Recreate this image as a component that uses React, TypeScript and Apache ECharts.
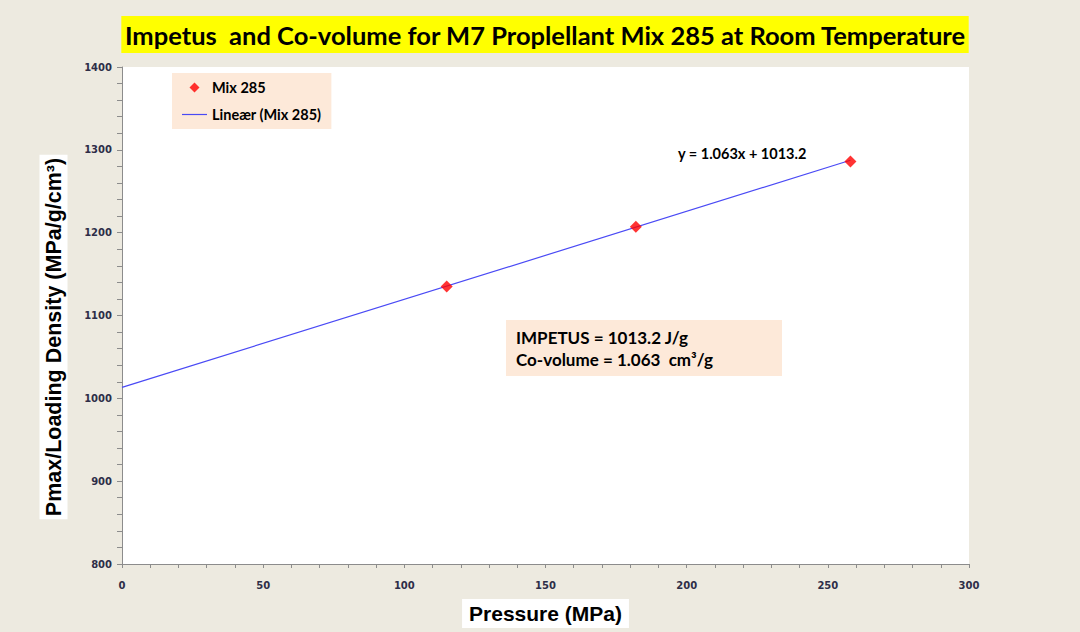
import React, { useEffect, useRef } from "react";
import * as echarts from "echarts";

const pressure = [115, 182, 258];
const pmaxDensity = [1135, 1207, 1286];
const trendX = [0, 258];
const trendY = [1013.2, 1287.4];
const xTicks = { min: 0, max: 300, interval: 50 };
const yTicks = { min: 800, max: 1400, interval: 100 };
const titleText = "Impetus  and Co-volume for M7 Proplellant Mix 285 at Room Temperature";
const equationText = "y = 1.063x + 1013.2";
const impetusLines = ["IMPETUS = 1013.2 J/g", "Co-volume = 1.063  cm³/g"];

export default function App() {
  const ref = useRef<HTMLDivElement>(null);
  useEffect(() => {
    if (!ref.current) return;
    const chart = echarts.init(ref.current, null, { renderer: "svg" });
    const tickFont = { fontFamily: "DejaVu Sans", fontWeight: "bold" as const, fontSize: 10, color: "#2E2E48" };
    chart.setOption({
      animation: false,
      backgroundColor: "#EDEAE0",
      title: {
        text: titleText,
        left: 542,
        top: 16,
        textAlign: "center",
        padding: [6, 3, 5, 3],
        backgroundColor: "#FFFF00",
        textStyle: { fontFamily: "Lato", fontWeight: "bold", fontSize: 25.5, color: "#000", lineHeight: 26 },
      },
      legend: {
        data: [
          { name: "Mix 285", icon: "path://M5,0L10,5L5,10L0,5Z" },
          { name: "Lineær (Mix 285)", icon: "path://M0,0h25v1.2h-25z" },
        ],
        orient: "vertical",
        left: 172,
        top: 73,
        padding: [7, 10, 7, 10],
        itemGap: 12,
        itemWidth: 25,
        itemHeight: 10,
        symbolKeepAspect: true,
        backgroundColor: "#FDE9D9",
        selectedMode: false,
        textStyle: { fontFamily: "Lato", fontWeight: "bold", fontSize: 14.5, color: "#000" },
      },
      grid: {
        left: 122,
        right: 111,
        top: 67,
        bottom: 68,
        show: true,
        backgroundColor: "#FFFFFF",
        borderWidth: 0,
        containLabel: false,
        outerBoundsMode: "none",
      },
      xAxis: {
        type: "value",
        ...xTicks,
        name: "Pressure (MPa)",
        nameLocation: "middle",
        nameGap: 35,
        nameMoveOverlap: false,
        nameTextStyle: {
          fontFamily: "Liberation Sans",
          fontWeight: "bold",
          fontSize: 21,
          color: "#000",
          backgroundColor: "#FFFFFF",
          padding: [4, 7, 4, 7],
        },
        axisLine: { show: true, lineStyle: { color: "#8C8C8C", width: 1 } },
        axisTick: { show: true, inside: false, length: 4, lineStyle: { color: "#8C8C8C" } },
        minorTick: { show: true, splitNumber: 5, length: 4, lineStyle: { color: "#8C8C8C" } },
        splitLine: { show: false },
        axisLabel: { ...tickFont, margin: 16, formatter: (v: number) => String(v) },
      },
      yAxis: {
        type: "value",
        ...yTicks,
        axisLine: { show: true, lineStyle: { color: "#8C8C8C", width: 1 } },
        axisTick: { show: true, inside: false, length: 5, lineStyle: { color: "#8C8C8C" } },
        minorTick: { show: true, splitNumber: 5, length: 5, lineStyle: { color: "#8C8C8C" } },
        splitLine: { show: false },
        axisLabel: { ...tickFont, margin: 10, formatter: (v: number) => String(v) },
      },
      series: [
        {
          name: "Lineær (Mix 285)",
          type: "line",
          data: trendX.map((x, i) => [x, trendY[i]]),
          symbol: "none",
          lineStyle: { color: "#4A4AF5", width: 1.2 },
          itemStyle: { color: "#4A4AF5" },
          z: 2,
        },
        {
          name: "Mix 285",
          type: "scatter",
          data: pressure.map((x, i) => [x, pmaxDensity[i]]),
          symbol: "diamond",
          symbolSize: 12,
          itemStyle: { color: "#FF0000" },
          z: 3,
        },
      ],
      graphic: [
        {
          type: "text",
          x: 53.5,
          y: 337,
          rotation: Math.PI / 2,
          style: {
            text: "Pmax/Loading Density (MPa/g/cm³)",
            fontFamily: "Liberation Sans",
            fontWeight: "bold",
            fontSize: 21.5,
            fill: "#000",
            align: "center",
            verticalAlign: "middle",
            backgroundColor: "#FFFFFF",
            padding: [3, 3, 3, 3],
          },
        },
        {
          type: "text",
          x: 678,
          y: 153,
          style: {
            text: equationText,
            fontFamily: "Lato",
            fontWeight: "bold",
            fontSize: 14.5,
            fill: "#000",
            verticalAlign: "middle",
          },
        },
        {
          type: "rect",
          shape: { x: 506, y: 320, width: 276, height: 56 },
          style: { fill: "#FDE9D9" },
        },
        {
          type: "text",
          x: 516,
          y: 337,
          style: {
            text: impetusLines[0],
            fontFamily: "Lato",
            fontWeight: "bold",
            fontSize: 17,
            fill: "#000",
            verticalAlign: "middle",
          },
        },
        {
          type: "text",
          x: 516,
          y: 359,
          style: {
            text: impetusLines[1],
            fontFamily: "Lato",
            fontWeight: "bold",
            fontSize: 17,
            fill: "#000",
            verticalAlign: "middle",
          },
        },
      ],
    });
    return () => chart.dispose();
  }, []);
  return (
    <div
      ref={ref}
      style={{ position: "fixed", left: 0, top: 0, width: 1080, height: 632 }}
    />
  );
}
